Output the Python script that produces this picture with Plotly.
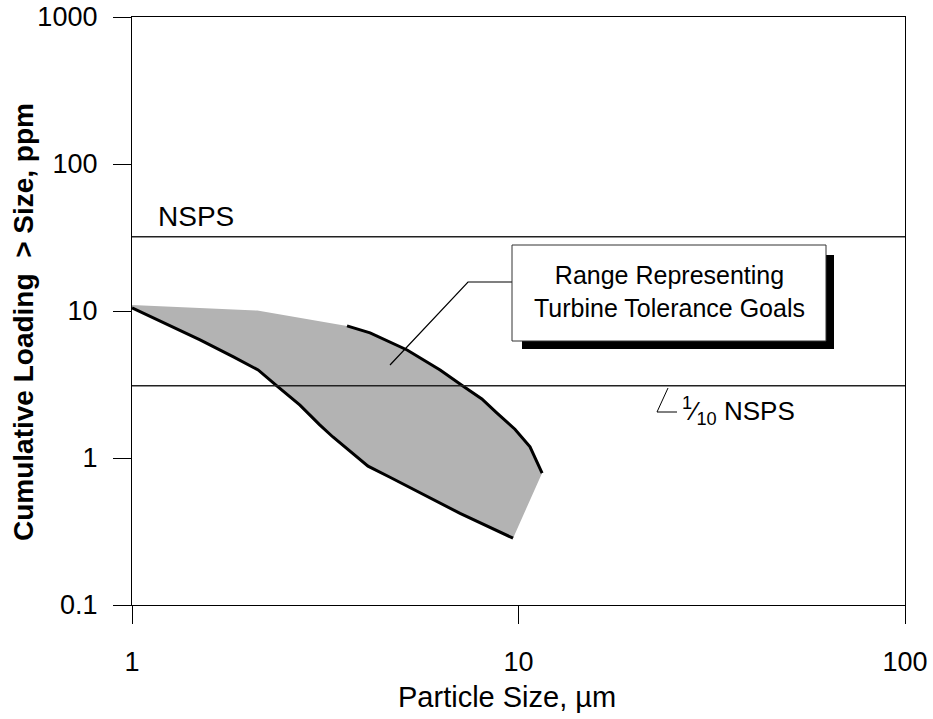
import plotly.graph_objects as go

# ---- data ----
nsps_level = 32.0          # NSPS line (ppm)
tenth_nsps_level = 3.1     # 1/10 NSPS line (ppm)

# grey boundary on the top-left (no black line)
range_top_x = [1.0, 2.11, 3.60]
range_top_y = [11.0, 10.07, 7.92]

# upper black curve
upper_x = [3.60, 4.13, 5.15, 6.27, 7.18, 8.04, 8.80, 9.79, 10.71, 11.51]
upper_y = [7.92, 7.10, 5.43, 3.97, 3.09, 2.52, 2.02, 1.57, 1.19, 0.79]

# lower black curve
lower_x = [1.0, 1.133, 1.50, 1.83, 2.12, 2.37, 2.72, 3.06, 3.31, 4.08, 4.65, 7.06, 9.68]
lower_y = [10.5, 8.98, 6.36, 4.87, 3.97, 3.09, 2.29, 1.68, 1.39, 0.88, 0.74, 0.42, 0.285]

x_tickvals = [1, 10, 100]
x_ticktext = ["1", "10", "100"]
y_tickvals = [0.1, 1, 10, 100, 1000]
y_ticktext = ["0.1", "1", "10", "100", "1000"]

FONT = "Liberation Sans, Arial, sans-serif"

FIG_W, FIG_H = 933, 719

# plot-area geometry in screen pixels
L, R, T, B = 132, 905, 17, 605
def px(x):
    return (x - L) / (R - L)
def py(y):
    return (B - y) / (B - T)

fig = go.Figure()

fill_x = range_top_x[:-1] + upper_x + lower_x[::-1]
fill_y = range_top_y[:-1] + upper_y + lower_y[::-1]
fig.add_trace(go.Scatter(x=fill_x, y=fill_y, fill="toself", fillcolor="#b3b3b3",
                         mode="lines", line=dict(width=0, color="#b3b3b3"),
                         hoverinfo="skip", showlegend=False))

fig.add_trace(go.Scatter(x=upper_x, y=upper_y, mode="lines",
                         line=dict(color="black", width=3), showlegend=False))
fig.add_trace(go.Scatter(x=lower_x, y=lower_y, mode="lines",
                         line=dict(color="black", width=3), showlegend=False))

for lvl in [nsps_level, tenth_nsps_level]:
    fig.add_trace(go.Scatter(x=[1, 100], y=[lvl, lvl], mode="lines",
                             line=dict(color="#222222", width=1.3), showlegend=False))

shapes = []
# leader line
shapes.append(dict(type="path", xref="paper", yref="paper",
                   path=f"M {px(390)} {py(365)} L {px(468)} {py(282)} L {px(512)} {py(282)}",
                   line=dict(color="black", width=1.2)))
# shadow
shapes.append(dict(type="rect", xref="paper", yref="paper",
                   x0=px(522), x1=px(834), y0=py(349), y1=py(255),
                   fillcolor="black", line=dict(width=0)))
# box
shapes.append(dict(type="rect", xref="paper", yref="paper",
                   x0=px(512), x1=px(826), y0=py(341), y1=py(245),
                   fillcolor="white", line=dict(color="#333333", width=1)))
# angle mark by 1/10 NSPS
shapes.append(dict(type="path", xref="paper", yref="paper",
                   path=f"M {px(668)} {py(388)} L {px(657)} {py(412)} L {px(677)} {py(412)}",
                   line=dict(color="black", width=1)))

annotations = [
    dict(text="Range Representing<br>Turbine Tolerance Goals", xref="paper", yref="paper",
         x=px(669), y=py(291), xanchor="center", yanchor="middle", showarrow=False,
         font=dict(family=FONT, size=25, color="black")),
    dict(text="NSPS", xref="paper", yref="paper", x=px(156), y=py(216),
         xanchor="left", yanchor="middle", showarrow=False,
         font=dict(family=FONT, size=28, color="black")),
    dict(text="<sup>1</sup>\u2044<sub>10</sub> NSPS", xref="paper", yref="paper",
         x=px(680), y=py(411), xanchor="left", yanchor="middle", showarrow=False,
         font=dict(family=FONT, size=26, color="black")),
    dict(text="Particle Size, \u00b5m", xref="paper", yref="paper",
         x=px(507), y=py(697), xanchor="center", yanchor="middle", showarrow=False,
         font=dict(family=FONT, size=29, color="black")),
    dict(text="<b>Cumulative Loading  > Size, ppm</b>", xref="paper", yref="paper",
         x=px(23), y=py(322), xanchor="center", yanchor="middle", showarrow=False,
         textangle=-90, font=dict(family=FONT, size=28, color="black")),
]

axis_common = dict(showgrid=False, zeroline=False, showline=True, linecolor="black",
                   linewidth=1.3, mirror=True, ticks="outside", ticklen=18,
                   tickwidth=1.3, tickcolor="black", automargin=False,
                   ticklabeloverflow="allow",
                   tickfont=dict(family=FONT, size=27, color="black"))

fig.update_layout(
    width=FIG_W, height=FIG_H,
    margin=dict(l=L, r=FIG_W - R, t=T, b=FIG_H - B, autoexpand=False),
    paper_bgcolor="white", plot_bgcolor="white",
    showlegend=False,
    xaxis=dict(type="log", range=[0, 2], tickvals=x_tickvals, ticktext=x_ticktext,
               ticklabelstandoff=14, **axis_common),
    yaxis=dict(type="log", range=[-1, 3], tickvals=y_tickvals, ticktext=y_ticktext,
               ticklabelstandoff=10, **axis_common),
    shapes=shapes, annotations=annotations,
)

# remove the browser's default 8px page margin so the figure sits at (0, 0)
fig.write_html("out.html", config={"displayModeBar": False},
               post_script="document.body.style.margin='0';")
